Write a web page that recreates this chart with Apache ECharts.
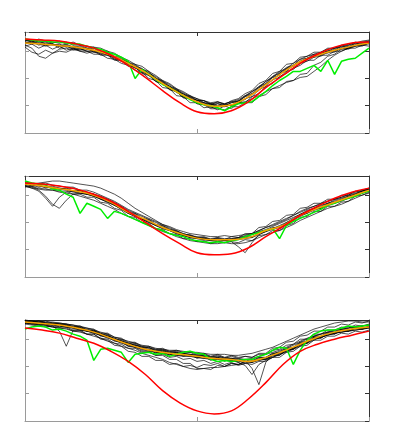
<!DOCTYPE html>
<html>
<head>
    <meta charset="utf-8">
    <title>Profiles</title>
    <script src="https://cdn.jsdelivr.net/npm/echarts/dist/echarts.min.js"></script>
    <style>
        body { margin: 0; background: #fff; }
    </style>
</head>
<body>
    <div id="chart" style="width: 393px;height:432px;"></div>
    <script type="text/javascript">
        // sample positions, % of the x range
        var xPct = [0,2,4,6,8,10,12,14,16,18,20,22,24,26,28,30,32,34,36,38,40,42,44,46,48,50,
                    52,54,56,58,60,62,64,66,68,70,72,74,76,78,80,82,84,86,88,90,92,94,96,98,100];
        var xSmooth = [0,5,10,15,20,25,30,35,40,45,50,55,60,65,70,75,80,85,90,95,100];

        // ---- panel 1
        var p1Red = [93,92,91,88,84,77,67,55,42,30,21,19,22,31,45,57,69,78,85,89,90];
        var p1Orange = [89,88,86.5,85,82,77,69,60,49,39,31,26.5,28,36,48,60,70.5,77,82,86,89];
        var p1Green = [93,92,91,91,90,90,89,88,88,86,84,83,80,78,75,71,54,63,58,53,48,45,41,37,33,30,
                       28,27,25,22,26,29,30,31,36,41,47,52,56,61,61,64,67,61,72,58,71,73,74,79,84];
        var p1Black = [
            [92,90,93,91,89,91,88,90,87,86,85,84,81,79,75,72,68,66,61,57,52,49,44,41,37,34,32,30,31,29,31,33,37,41,46,51,56,61,64,69,73,76,78,80,83,84,86,88,89,91,92],
            [86,88,84,87,83,86,82,84,81,81,78,78,74,73,69,67,62,60,54,52,45,44,37,36,30,30,25,26,23,27,24,30,30,36,39,46,49,56,59,64,67,72,72,77,77,81,81,84,84,87,86],
            [85,80,78,82,79,81,80,83,81,79,81,77,77,72,72,66,65,59,57,51,49,43,41,35,34,29,29,25,26,26,28,29,34,36,43,46,53,55,61,63,69,71,75,76,80,80,84,84,87,87,89],
            [88,90,87,89,88,86,88,85,86,83,84,80,80,75,74,69,67,62,60,54,51,45,43,37,36,32,32,28,31,28,32,34,39,42,49,52,59,61,68,69,75,76,80,80,84,84,87,87,90,89,91],
            [90,88,89,87,88,86,86,83,84,81,82,78,78,73,72,67,65,60,58,51,49,43,41,35,34,29,28,24,24,23,26,26,30,30,36,38,44,45,51,52,58,59,67,70,76,78,83,83,86,86,89],
            [89,91,88,86,88,84,86,84,82,84,80,81,77,76,71,70,64,63,57,55,48,47,40,39,33,33,28,29,26,28,27,32,33,39,42,49,52,59,61,67,70,74,75,79,79,83,83,86,86,89,88],
            [91,92,90,91,90,89,90,87,87,84,85,81,81,76,75,70,68,63,61,54,52,46,44,38,37,32,32,29,30,29,31,31,37,39,46,49,56,59,65,67,73,74,78,78,82,82,86,85,89,88,90],
            [87,84,76,74,79,83,84,82,83,81,80,79,78,74,72,68,65,61,57,53,50,44,42,36,35,30,30,26,29,27,30,31,36,38,45,48,55,57,64,66,71,73,77,77,81,81,84,84,87,87,89],
            [90,89,91,88,87,88,85,86,84,83,82,80,79,75,73,70,66,64,59,56,51,48,43,40,36,34,30,29,27,28,27,30,31,34,37,41,44,47,50,52,55,56,61,66,72,77,81,84,86,88,89],
            [92,91,89,90,88,87,87,85,84,84,81,80,77,75,71,69,65,62,58,54,50,46,42,39,35,32,30,28,29,27,30,32,36,41,45,51,55,60,63,67,71,74,76,79,81,84,85,87,88,90,91]
        ];

        // ---- panel 2
        var p2Red = [93,92,90,87,82,75,65,54,43,33,24,22,23,29,40,50,61,70,78,84,88];
        var p2Orange = [92,90,87.5,85,81,74,64,57,49,43,38.5,37,37,39,46,51,61,68,74,80,86];
        var p2Green = [95,93,92,91,87,86,82,79,63,73,70,67,58,65,63,60,57,54,51,48,46,43,41,40,37,36,
                       35,34,35,34,36,37,40,42,44,46,48,38,51,55,58,61,64,67,71,73,76,78,80,83,85];
        var p2Black = [
            [94,93,92,93,91,90,89,89,86,86,84,81,78,75,71,67,64,61,58,55,52,50,47,45,43,42,41,40,40,41,40,41,42,43,46,49,51,54,57,61,64,67,70,72,75,77,79,82,84,86,88],
            [90,88,88,87,86,85,85,82,82,79,79,74,73,68,66,60,59,54,53,48,47,43,42,38,38,35,36,33,35,34,35,34,37,36,41,42,46,46,51,53,59,60,65,65,70,70,74,75,80,81,84],
            [93,92,93,94,95,95,94,93,92,91,90,88,85,82,78,73,68,64,60,56,52,49,46,43,41,40,39,38,39,38,38,39,41,43,46,49,52,55,58,61,65,68,70,73,75,77,79,81,83,85,87],
            [91,89,86,80,72,68,76,82,83,82,80,77,74,71,67,63,60,57,54,51,48,46,43,41,39,38,37,36,36,36,36,37,38,39,42,45,47,49,52,56,60,63,66,68,71,73,75,78,80,83,85],
            [92,90,91,89,88,87,86,84,83,82,80,77,74,71,67,63,60,57,54,51,48,46,43,41,39,38,37,36,35,36,35,30,24,34,42,45,48,51,54,58,62,65,68,70,73,75,77,80,82,85,87],
            [92,91,89,90,88,88,87,85,86,82,82,78,77,71,70,64,63,58,57,52,51,47,46,42,42,39,40,37,39,37,40,39,43,43,49,50,55,56,61,62,68,69,73,73,77,77,81,81,85,85,88],
            [93,90,91,88,89,87,88,85,85,82,82,77,76,71,69,63,62,57,56,51,50,46,45,41,41,38,39,36,38,36,38,37,40,39,44,45,49,49,54,56,62,63,68,68,73,73,77,78,82,83,87],
            [90,88,85,78,70,79,84,85,83,82,80,78,75,72,68,64,61,58,55,52,49,47,44,42,40,39,38,37,37,37,37,38,39,40,43,46,48,50,53,57,61,64,67,69,72,74,76,79,81,84,86],
            [91,92,90,89,90,88,87,88,85,84,82,80,77,74,70,66,63,60,57,54,51,48,45,43,41,39,38,37,38,36,37,39,40,42,45,47,50,53,56,59,62,66,68,71,73,76,78,80,82,85,87],
            [89,90,87,86,86,84,83,82,80,78,76,73,70,67,63,60,57,54,51,48,45,43,40,38,36,35,34,33,33,34,33,33,34,36,39,42,44,46,49,52,56,59,62,65,68,70,72,75,78,81,83]
        ];

        // ---- panel 3
        var p3Red = [92,90,87,82,77,69,59,46,30,18,10,7,10,22,38,56,69,76,81,85,89];
        var p3Orange = [98,96.5,95,92,88,82,76,71,68,66,64,62,61,59,63,69,76,83,88,91,93];
        var p3Green = [91,93,94,93,90,91,89,86,84,80,60,71,72,70,68,58,66,67,68,66,67,64,66,68,69,67,
                       66,61,59,60,59,60,61,61,64,66,70,73,72,56,70,80,86,89,90,90,92,94,93,94,95];
        var p3Black = [
            [100,99,98,99,97,97,96,95,94,92,91,87,87,83,82,78,78,74,74,71,72,69,70,68,69,66,67,64,66,63,65,63,64,63,66,66,70,71,75,76,81,81,86,86,90,90,93,92,95,94,96],
            [96,95,94,94,93,92,92,89,89,86,86,82,81,77,76,72,72,68,68,65,66,63,64,61,62,59,60,57,59,56,58,55,57,56,59,59,63,63,68,69,74,75,80,80,84,84,87,86,89,88,90],
            [97,96,95,93,94,89,74,90,90,89,87,85,82,80,77,75,73,71,69,68,67,66,65,65,64,63,62,61,61,60,60,59,58,59,60,62,64,67,69,72,75,78,81,83,85,87,88,89,90,91,92],
            [98,97,96,96,95,94,93,92,90,89,88,84,83,79,78,74,73,69,69,65,65,61,61,57,57,52,52,51,55,54,57,56,59,58,61,61,65,65,70,71,76,77,82,82,86,86,90,89,92,91,93],
            [99,98,97,97,96,96,95,94,92,91,89,87,84,82,79,77,75,73,71,70,69,68,67,67,66,65,64,63,63,62,62,61,60,52,36,58,66,69,72,75,78,81,84,86,88,89,91,92,93,94,95],
            [99,98,98,97,97,96,96,93,94,90,90,86,86,81,81,77,77,73,73,70,71,68,69,67,68,65,66,63,65,62,64,62,64,63,67,67,72,73,78,79,84,85,89,89,93,93,96,95,98,97,99],
            [98,96,97,95,96,93,95,92,92,89,89,85,85,80,80,74,75,70,71,67,69,65,68,64,66,62,64,60,63,59,62,58,61,58,62,61,66,65,71,71,77,77,83,82,87,86,90,89,92,91,93],
            [97,96,96,95,94,93,93,90,90,86,86,81,80,75,74,69,68,64,64,60,60,56,57,54,55,53,56,55,57,54,57,56,59,59,63,63,67,67,71,72,77,78,83,83,87,87,90,89,92,91,93],
            [99,99,98,97,97,96,95,93,93,89,90,85,85,80,80,76,76,72,73,69,70,67,68,65,66,64,65,62,63,61,62,60,61,60,63,63,67,68,72,73,78,79,84,84,88,88,91,90,93,92,94],
            [98,97,96,96,95,95,93,92,91,89,87,85,83,80,78,76,73,72,70,68,67,66,65,64,64,63,62,62,61,61,60,58,55,46,56,60,63,66,69,72,75,78,81,83,85,87,88,90,91,92,93],
            [99,98,99,97,96,96,94,93,92,90,88,86,84,82,79,77,75,74,72,71,70,69,68,67,66,65,65,64,64,63,62,62,61,62,64,66,68,70,73,76,79,82,84,86,88,90,91,92,93,94,95],
            [97,97,95,95,93,92,91,89,88,86,84,82,79,77,74,72,70,67,65,63,61,58,56,54,52,51,52,53,53,54,55,56,57,58,60,61,63,66,68,71,74,77,80,83,85,87,88,89,90,91,92],
            [100,99,99,98,98,97,96,95,93,92,90,88,86,83,81,79,77,75,74,72,71,70,70,69,68,68,67,66,66,66,65,65,66,67,69,71,73,76,79,82,85,88,91,93,95,97,98,99,99,98,98]
        ];

        var panels = [
            {red: p1Red, orange: p1Orange, green: p1Green, black: p1Black},
            {red: p2Red, orange: p2Orange, green: p2Green, black: p2Black},
            {red: p3Red, orange: p3Orange, green: p3Green, black: p3Black}
        ];
        var gridTops = [32, 176, 320];

        function pairs(xs, ys) {
            return ys.map(function (y, i) { return [xs[i], y]; });
        }

        function axisBits(color) {
            return {
                axisLine: {show: true, onZero: false, lineStyle: {color: color, width: 1}},
                axisTick: {show: true, inside: true, length: 4, lineStyle: {color: color, width: 1}},
                axisLabel: {show: false},
                splitLine: {show: false}
            };
        }

        var grid = [], xAxis = [], yAxis = [], series = [];
        panels.forEach(function (p, g) {
            grid.push({left: 25, right: 24, top: gridTops[g], height: 101});
            // bottom / top x axes
            xAxis.push(Object.assign({gridIndex: g, type: 'value', min: 0, max: 100, interval: 50,
                position: 'bottom'}, axisBits('#9a9a9a')));
            xAxis.push(Object.assign({gridIndex: g, type: 'value', min: 0, max: 100, interval: 50,
                position: 'top'}, axisBits('#333')));
            // left / right y axes
            yAxis.push(Object.assign({gridIndex: g, type: 'value', min: 0, max: 100, interval: 27,
                position: 'left'}, axisBits('#9a9a9a')));
            yAxis.push(Object.assign({gridIndex: g, type: 'value', min: 0, max: 100, interval: 27,
                position: 'right'}, axisBits('#333')));

            var xi = g * 2, yi = g * 2;
            p.black.forEach(function (b) {
                series.push({type: 'line', xAxisIndex: xi, yAxisIndex: yi, data: pairs(xPct, b),
                    symbol: 'none', lineStyle: {color: '#000', width: 0.8, opacity: 0.85}, silent: true});
            });
            series.push({type: 'line', xAxisIndex: xi, yAxisIndex: yi, data: pairs(xPct, p.green),
                symbol: 'none', lineStyle: {color: '#00ee00', width: 1.5}, silent: true});
            series.push({type: 'line', xAxisIndex: xi, yAxisIndex: yi, data: pairs(xSmooth, p.orange),
                symbol: 'none', smooth: 0.4, lineStyle: {color: '#f5a300', width: 1.5}, silent: true});
            series.push({type: 'line', xAxisIndex: xi, yAxisIndex: yi, data: pairs(xSmooth, p.red),
                symbol: 'none', smooth: 0.4, lineStyle: {color: '#ff0000', width: 1.5}, silent: true});
        });

        var chart = echarts.init(document.getElementById('chart'), null, {renderer: 'canvas'});
        chart.setOption({
            animation: false,
            backgroundColor: '#fff',
            grid: grid,
            xAxis: xAxis,
            yAxis: yAxis,
            series: series
        });
    </script>
</body>
</html>
